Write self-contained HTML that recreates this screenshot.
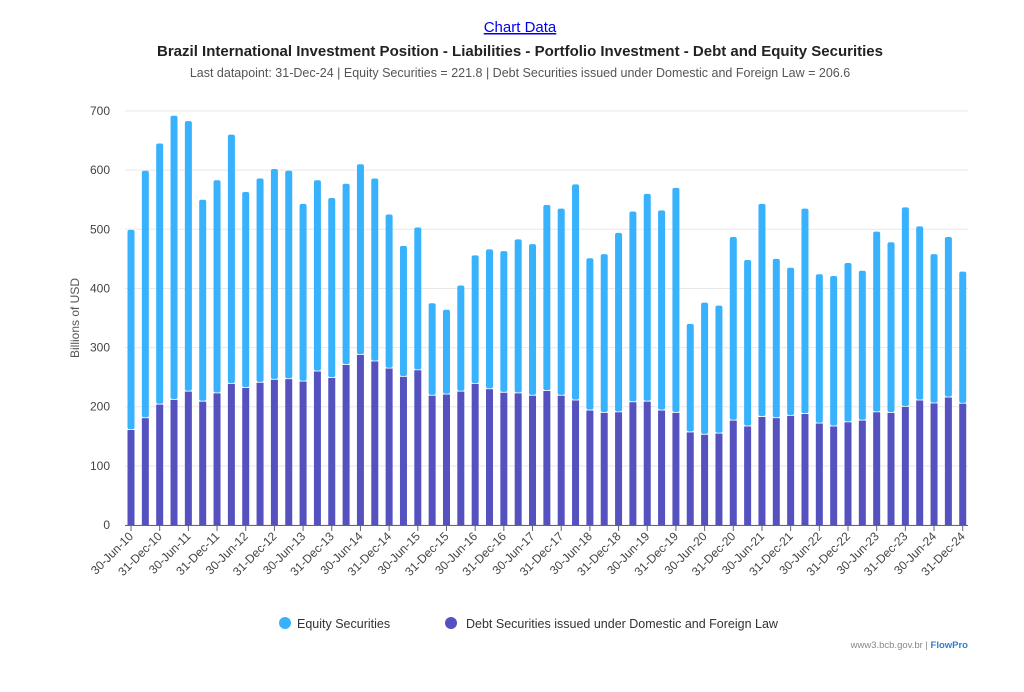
<!DOCTYPE html>
<html><head><meta charset="utf-8"><style>
body{margin:0;background:#fff;font-family:"Liberation Sans",sans-serif;}
</style></head><body>
<svg id="s" width="1024" height="687" xmlns="http://www.w3.org/2000/svg" font-family="Liberation Sans, sans-serif">
<text x="520" y="32" text-anchor="middle" font-size="15" fill="#0000ee" text-decoration="underline">Chart Data</text>
<text x="520" y="56" text-anchor="middle" font-size="15" font-weight="bold" fill="#222">Brazil International Investment Position - Liabilities - Portfolio Investment - Debt and Equity Securities</text>
<text x="520" y="77" text-anchor="middle" font-size="12.5" fill="#555">Last datapoint: 31-Dec-24 | Equity Securities = 221.8 | Debt Securities issued under Domestic and Foreign Law = 206.6</text>
<text transform="translate(79,318) rotate(-90)" text-anchor="middle" font-size="12" fill="#555">Billions of USD</text>
<g id="g"></g>
<circle cx="285" cy="623" r="6" fill="#38b2fc"/>
<text x="297" y="628" font-size="12.5" fill="#333">Equity Securities</text>
<circle cx="451" cy="623" r="6" fill="#5552c0"/>
<text x="466" y="628" font-size="12.5" fill="#333">Debt Securities issued under Domestic and Foreign Law</text>
<text x="968" y="648" text-anchor="end" font-size="9.5" fill="#888">www3.bcb.gov.br | <tspan fill="#2d7fd1" font-weight="bold">FlowPro</tspan></text>
</svg>
<script>
var T=[499,599,645,692,683,550,583,660,563,586,602,599,543,583,553,577,610,586,525,472,503,375,364,405,456,466,463,483,475,541,535,576,451,458,494,530,560,532,570,340,376,371,487,448,543,450,435,535,424,421,443,430,496,478,537,505,458,487,428.4];
var D=[162,182,205,213,227,210,224,240,233,242,247,248,244,261,250,272,289,278,266,252,263,220,222,227,240,231,225,224,220,228,220,212,195,191,192,209,210,195,191,158,154,156,178,168,184,182,186,189,173,168,175,178,192,191,201,212,207,217,206.6];
var L=["30-Jun-10","31-Dec-10","30-Jun-11","31-Dec-11","30-Jun-12","31-Dec-12","30-Jun-13","31-Dec-13","30-Jun-14","31-Dec-14","30-Jun-15","31-Dec-15","30-Jun-16","31-Dec-16","30-Jun-17","31-Dec-17","30-Jun-18","31-Dec-18","30-Jun-19","31-Dec-19","30-Jun-20","31-Dec-20","30-Jun-21","31-Dec-21","30-Jun-22","31-Dec-22","30-Jun-23","31-Dec-23","30-Jun-24","31-Dec-24"];
var y0=525,k=0.5914,h='';
for(var v=0;v<=700;v+=100){var y=y0-v*k;h+='<line x1="125" x2="968" y1="'+y+'" y2="'+y+'" stroke="#e8e8e8"/>';h+='<text x="110" y="'+(y+4)+'" text-anchor="end" font-size="12" fill="#444">'+v+'</text>';}
h+='<line x1="125" x2="968" y1="525.5" y2="525.5" stroke="#666"/>';
for(var i=0;i<59;i++){var cx=131+i*14.34,w=7,x=cx-w/2,yt=y0-T[i]*k,yd=y0-D[i]*k;
h+='<rect x="'+x+'" y="'+yt+'" width="'+w+'" height="'+(yd-yt)+'" rx="2" fill="#38b2fc"/>';
h+='<rect x="'+x+'" y="'+(yd+0.8)+'" width="'+w+'" height="'+(y0-yd-0.8)+'" fill="#5552c0"/>';
if(i%2==0){h+='<line x1="'+cx+'" x2="'+cx+'" y1="526" y2="531" stroke="#666"/>';
h+='<text transform="translate('+(cx+3)+',537) rotate(-45)" text-anchor="end" font-size="12" fill="#444">'+L[i/2]+'</text>';}}
document.getElementById('g').innerHTML=h;
</script>
</body></html>
